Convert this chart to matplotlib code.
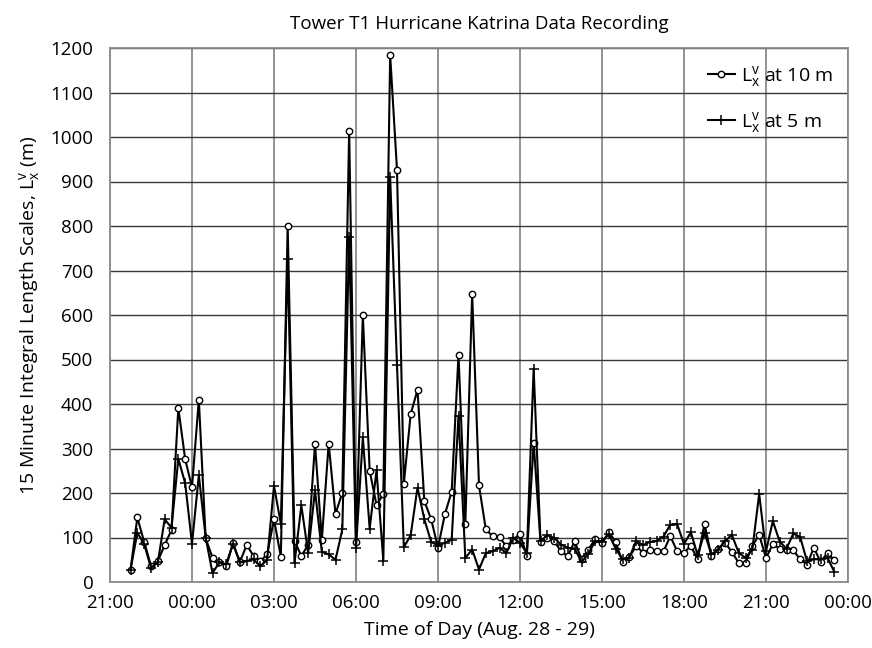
import matplotlib
matplotlib.use("Agg")
import matplotlib.pyplot as plt
import matplotlib.dates as mdates
import pandas as pd

# 15-minute samples starting 21:45 on Aug 28, 2005
start_time = "2005-08-28 21:45"
sample_interval = "15min"

L_10m = [27, 145, 90, 36, 47, 83, 117, 391, 276, 213, 410, 98, 55, 44, 35, 87, 45, 83, 59, 47,
         62, 141, 57, 800, 93, 58, 84, 310, 95, 311, 153, 201, 1014, 90, 599, 250, 173, 197, 1184, 926,
         221, 377, 432, 182, 141, 77, 152, 203, 511, 131, 648, 217, 118, 103, 101, 80, 95, 108, 59, 313,
         90, 98, 92, 69, 58, 92, 51, 73, 96, 88, 112, 90, 45, 56, 81, 66, 73, 69, 69, 103,
         69, 66, 81, 51, 131, 58, 75, 88, 68, 43, 43, 81, 106, 54, 85, 75, 71, 71, 51, 39,
         77, 45, 66, 49]

L_5m = [27, 111, 85, 32, 44, 141, 122, 277, 222, 86, 240, 100, 20, 44, 40, 86, 44, 47, 51, 35,
        50, 216, 131, 725, 42, 172, 65, 206, 68, 62, 50, 118, 775, 77, 325, 120, 251, 48, 909, 488,
        78, 105, 212, 141, 90, 82, 88, 95, 374, 54, 73, 28, 65, 69, 77, 65, 99, 88, 65, 479,
        92, 105, 99, 84, 77, 75, 45, 63, 92, 91, 107, 75, 51, 55, 92, 83, 90, 92, 102, 129,
        130, 85, 112, 60, 111, 62, 73, 92, 106, 66, 54, 73, 198, 69, 137, 91, 75, 109, 101, 47,
        51, 51, 54, 23]

x_start = "2005-08-28 21:00"
x_end = "2005-08-30 00:00"
y_ticks = [0, 100, 200, 300, 400, 500, 600, 700, 800, 900, 1000, 1100, 1200]

FONT = ["Open Sans", "DejaVu Sans"]
plt.rcParams["font.family"] = FONT
plt.rcParams["mathtext.fontset"] = "custom"
plt.rcParams["mathtext.rm"] = "Open Sans"
plt.rcParams["mathtext.it"] = "Open Sans"

times = pd.date_range(start=start_time, periods=len(L_10m), freq=sample_interval)

fig = plt.figure(figsize=(8.72, 6.48), dpi=100)
ax = fig.add_axes([110 / 872, 1 - 582 / 648, (848 - 110) / 872, (582 - 48) / 648])

ax.plot(times, L_10m, color="black", lw=1.5, marker="o", markersize=4.6,
        markerfacecolor="white", markeredgecolor="black", markeredgewidth=1.0,
        label=r"$\mathrm{L}_{\mathrm{x}}^{\mathrm{v}}$ at 10 m", zorder=3)
ax.plot(times, L_5m, color="black", lw=1.5, marker="+", markersize=7,
        markeredgewidth=1.1, label=r"$\mathrm{L}_{\mathrm{x}}^{\mathrm{v}}$ at 5 m", zorder=3)

ax.set_xlim(pd.Timestamp(x_start), pd.Timestamp(x_end))
ax.set_ylim(0, 1200)
ax.set_yticks(y_ticks)
ax.xaxis.set_major_locator(mdates.HourLocator(byhour=[0, 3, 6, 9, 12, 15, 18, 21]))
ax.xaxis.set_major_formatter(mdates.DateFormatter("%H:%M"))

ax.yaxis.grid(True, color="#3a3a3a", lw=1.0)
ax.xaxis.grid(True, color="#8a8a8a", lw=1.3)
ax.set_axisbelow(True)
for s in ax.spines.values():
    s.set_color("#8a8a8a")
    s.set_linewidth(1.3)
ax.tick_params(axis="both", length=0, labelsize=13.5, colors="black")
ax.tick_params(axis="y", pad=12)
ax.tick_params(axis="x", pad=9)

ax.set_title("Tower T1 Hurricane Katrina Data Recording", fontsize=13.5, pad=14)
ax.set_xlabel("Time of Day (Aug. 28 - 29)", fontsize=14, labelpad=6)
ax.set_ylabel(r"15 Minute Integral Length Scales, $\mathrm{L}_{\mathrm{x}}^{\mathrm{v}}$ (m)",
              fontsize=14, labelpad=6)

ax.legend(loc="upper right", frameon=False, fontsize=14, handlelength=1.4,
          labelspacing=1.1, handletextpad=0.3, borderaxespad=0.4)

fig.savefig("out.png", dpi=100)
